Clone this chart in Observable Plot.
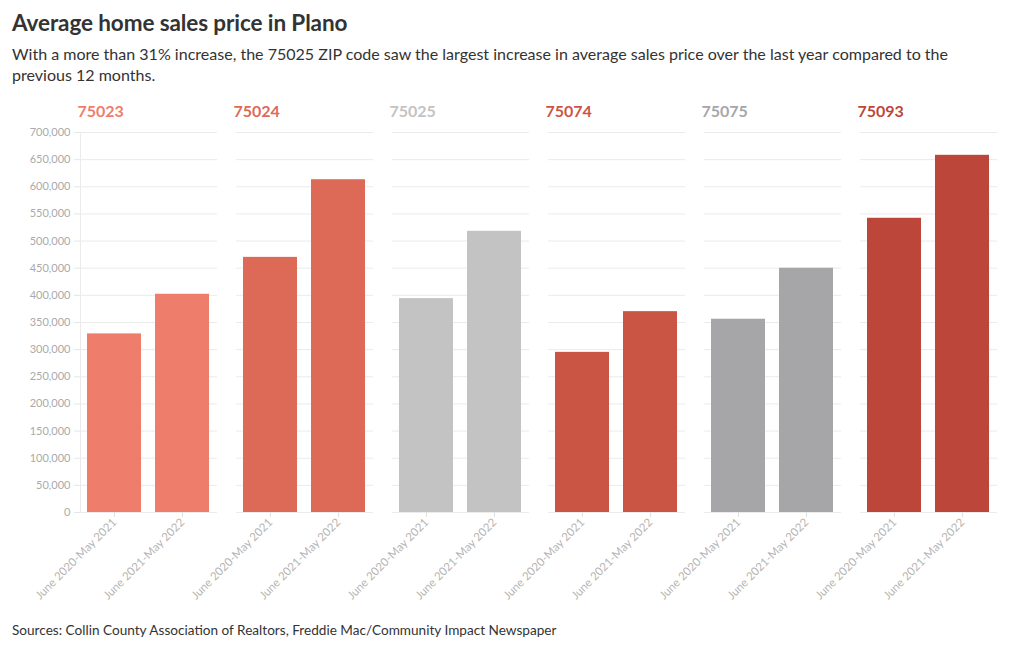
<!DOCTYPE html>
<html>
<head>
<meta charset="utf-8">
<script src="https://cdn.jsdelivr.net/npm/d3@7"></script>
<script src="https://cdn.jsdelivr.net/npm/@observablehq/plot@0.6"></script>
<style>
  body { margin: 0; background: #fff; font-family: Lato, "Noto Sans", sans-serif; }
  #wrap { position: relative; width: 1020px; height: 650px; }
  h1 { position: absolute; left: 12px; top: 9px; margin: 0; font-size: 22.5px; font-weight: 700; color: #333; letter-spacing: -0.1px; }
  #sub { position: absolute; left: 12px; top: 43px; width: 990px; margin: 0; font-size: 16.05px; line-height: 21px; color: #333; }
  #chart { position: absolute; left: 0; top: 92px; }
  #cap { position: absolute; left: 12px; top: 622px; font-size: 13.6px; color: #333; }
</style>
</head>
<body>
<div id="wrap">
  <h1>Average home sales price in Plano</h1>
  <p id="sub">With a more than 31% increase, the 75025 ZIP code saw the largest increase in average sales price over the last year compared to the previous 12 months.</p>
  <div id="chart"></div>
  <div id="cap">Sources: Collin County Association of Realtors, Freddie Mac/Community Impact Newspaper</div>
</div>
<script>
const zips = ["75023", "75024", "75025", "75074", "75075", "75093"];
const periods = ["June 2020-May 2021", "June 2021-May 2022"];
const prior = [329000, 470000, 394000, 295000, 356000, 542000];
const latest = [402000, 613000, 518000, 370000, 450000, 658000];
const zipColors = ["#ee7d6c", "#dc6a57", "#c3c3c3", "#cb5545", "#a6a6a8", "#bd463a"];
const yTicks = [0, 50000, 100000, 150000, 200000, 250000, 300000, 350000, 400000, 450000, 500000, 550000, 600000, 650000, 700000];

const data = [];
zips.forEach((z, i) => {
  data.push({zip: z, period: periods[0], value: prior[i]});
  data.push({zip: z, period: periods[1], value: latest[i]});
});

const fmt = d3.format(",");
const chart = Plot.plot({
  width: 1020,
  height: 520,
  marginLeft: 78,
  marginRight: 20,
  marginTop: 40,
  marginBottom: 100,
  style: {fontFamily: "Lato, 'Noto Sans', sans-serif", background: "#fff"},
  fx: {domain: zips, paddingInner: 0.121, paddingOuter: 0, axis: null, label: null},
  x: {domain: periods, paddingInner: 0.2, paddingOuter: 0.1, label: null},
  y: {domain: [0, 700000], label: null},
  color: {domain: zips, range: zipColors},
  marks: [
    Plot.gridY(yTicks, {stroke: "#ebebeb", strokeOpacity: 1}),
    Plot.frame({anchor: "left", facetAnchor: "left", stroke: "#ebebeb", strokeOpacity: 1}),
    Plot.axisY({ticks: yTicks, tickFormat: fmt, tickSize: 6, tickPadding: 4, stroke: "#e6e6e6", fill: "#aaa", fontSize: 11, label: null}),
    Plot.barY(data, {fx: "zip", x: "period", y: "value", fill: "zip"}),
    Plot.axisX({tickRotate: -45, tickSize: 5, tickPadding: 3, stroke: "#e0e0e0", fill: "#b5b5b5", fontSize: 11.5, label: null}),
    Plot.text(zips, {fx: d => d, text: d => d, fill: d => d, frameAnchor: "top-left", dx: -3, dy: -27, fontSize: 16, fontWeight: "bold"})
  ]
});
document.getElementById("chart").appendChild(chart);
</script>
</body>
</html>
